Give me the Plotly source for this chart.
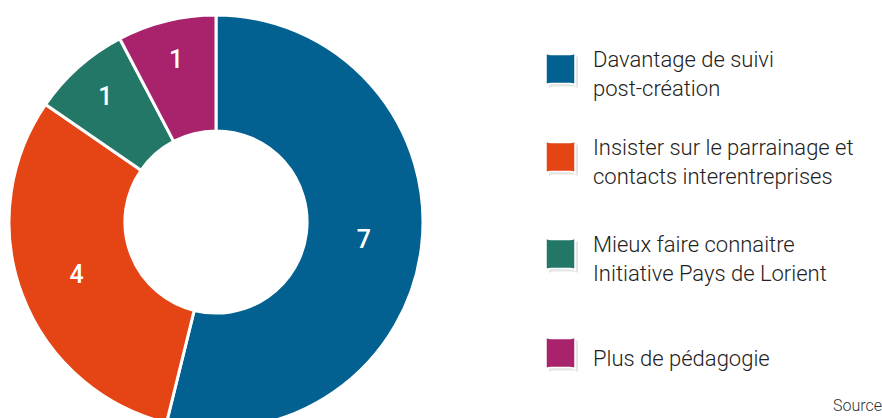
import plotly.graph_objects as go

labels = ["Davantage de suivi<br>post-création",
          "Insister sur le parrainage et<br>contacts interentreprises",
          "Mieux faire connaitre<br>Initiative Pays de Lorient",
          "Plus de pédagogie"]
values = [7, 4, 1, 1]
colors = ["#036192", "#E54414", "#237767", "#A8236C"]

W, H = 882, 444
cx, cy, r = 216, 222, 207

fig = go.Figure(go.Pie(
    labels=labels, values=values, sort=False, direction="clockwise", rotation=0,
    hole=0.44, marker=dict(colors=colors, line=dict(color="white", width=3)),
    texttemplate="%{value}", textposition="inside", insidetextorientation="horizontal",
    textfont=dict(color="white", size=25, family="Roboto", weight=500),
    domain=dict(x=[(cx - r) / W, (cx + r) / W], y=[(H - cy - r) / H, (H - cy + r) / H]),
    showlegend=False, hoverinfo="label+value"))

leg_y = [69, 157, 254, 353]
shapes, annots = [], []
def rrect(x0, y0, x1, y1, rad):
    return (f"M{x0+rad},{y0} L{x1-rad},{y0} Q{x1},{y0} {x1},{y0+rad} L{x1},{y1-rad} "
            f"Q{x1},{y1} {x1-rad},{y1} L{x0+rad},{y1} Q{x0},{y1} {x0},{y1-rad} "
            f"L{x0},{y0+rad} Q{x0},{y0} {x0+rad},{y0} Z")
for lab, col, yc in zip(labels, colors, leg_y):
    s = 29
    x0, x1 = 546, 546 + s
    ya, yb = yc - s / 2, yc + s / 2
    shapes.append(dict(type="path", xref="paper", yref="paper", layer="above",
                       path=rrect((x0 + 3) / W, 1 - (ya + 3) / H, (x1 + 3) / W, 1 - (yb + 3) / H, 0.006),
                       fillcolor="rgba(0,0,0,0.10)", line=dict(width=0)))
    shapes.append(dict(type="path", xref="paper", yref="paper", layer="above",
                       path=rrect(x0 / W, 1 - ya / H, x1 / W, 1 - yb / H, 0.006),
                       fillcolor=col, line=dict(color="white", width=1.5)))
    annots.append(dict(x=591 / W, y=1 - (yc + 5) / H, xref="paper", yref="paper",
                       text=lab, showarrow=False, xanchor="left", yanchor="middle", align="left",
                       font=dict(size=22, color="#222222", family="Roboto", weight=300)))

annots.append(dict(x=831 / W, y=1 - 405 / H, xref="paper", yref="paper", text="Source",
                   showarrow=False, xanchor="left", yanchor="middle",
                   font=dict(size=16, color="#333333", family="Roboto", weight=300)))

fig.update_layout(width=W, height=H, margin=dict(l=0, r=0, t=0, b=0),
                  paper_bgcolor="white", plot_bgcolor="white",
                  shapes=shapes, annotations=annots)

fig.write_html("out.html", config={"displayModeBar": False},
               post_script="document.body.style.margin='0';document.body.style.overflow='hidden';document.documentElement.style.overflow='hidden';")
